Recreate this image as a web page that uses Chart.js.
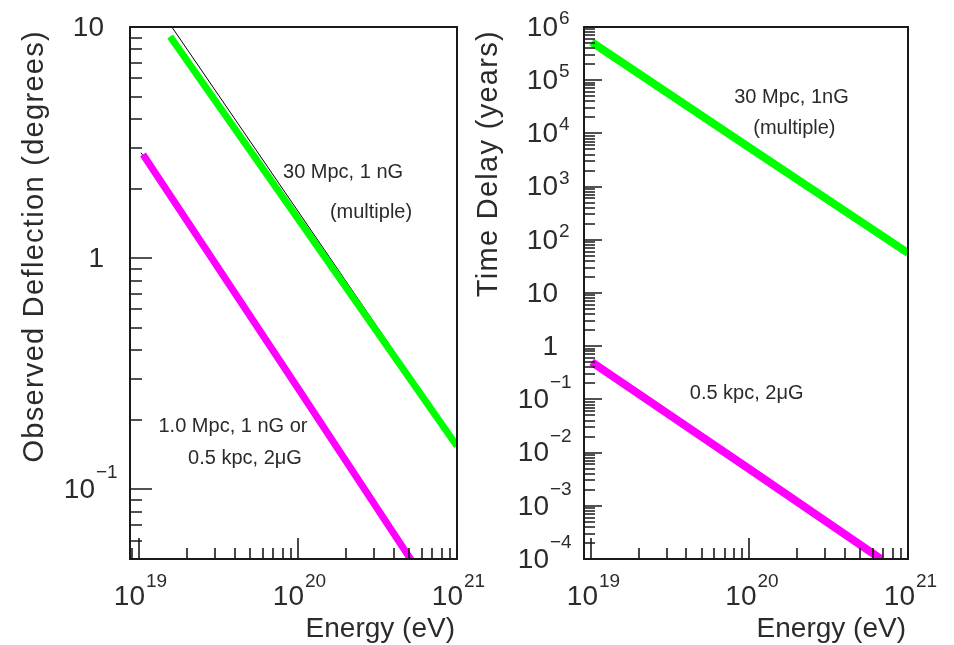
<!DOCTYPE html>
<html>
<head>
<meta charset="utf-8">
<script src="https://cdn.jsdelivr.net/npm/chart.js@4.4.1/dist/chart.umd.min.js"></script>
<style>
  body { margin: 0; background: #fff; }
  #wrap { position: relative; width: 954px; height: 645px; overflow: hidden; }
  canvas { position: absolute; top: 0; }
  #left { left: 0; }
  #right { left: 450px; }
</style>
</head>
<body>
<div id="wrap">
  <canvas id="left" width="500" height="645"></canvas>
  <canvas id="right" width="504" height="645"></canvas>
</div>
<script>
// left panel: observed deflection (degrees) vs energy (eV)
var defGreenE = [1.57e19, 1e20, 1e21];
var defGreenV = [9.1, 1.48, 0.154];
var defGreenEdgeE = [1.61e19, 1e21];
var defGreenEdgeV = [10, 0.158];
var defPinkE = [1.06e19, 1e20, 5.2e20];
var defPinkV = [2.81, 0.274, 0.049];
var defPinkEdgeE = [1.03e19, 5.45e20];
var defPinkEdgeV = [2.86, 0.049];

// right panel: time delay (years) vs energy (eV)
var delGreenE = [1.01e19, 1e20, 1e21];
var delGreenV = [5.2e5, 5.4e3, 56.5];
var delPinkE = [1.01e19, 1e20, 6.76e20];
var delPinkV = [0.505, 4.9e-3, 1e-4];
var delPinkEdgeE = [1.0e19, 7.1e20];
var delPinkEdgeV = [0.48, 9.5e-5];

// tick labels
var xTickVals = [1e19, 1e20, 1e21];
var xTickExp = ['19', '20', '21'];
var leftYVals = [10, 1, 0.1];
var leftYBase = ['10', '1', '10'];
var leftYExp = ['', '', '\u22121'];
var rightYVals = [1e6, 1e5, 1e4, 1e3, 1e2, 10, 1, 0.1, 0.01, 1e-3, 1e-4];
var rightYBase = ['10', '10', '10', '10', '10', '10', '1', '10', '10', '10', '10'];
var rightYExp = ['6', '5', '4', '3', '2', '', '', '\u22121', '\u22122', '\u22123', '\u22124'];

function pts(xs, ys) {
    return xs.map(function(x, i) { return {x: x, y: ys[i]}; });
}

function logTicks(min, max) {
    var out = [];
    for (var k = Math.floor(Math.log10(min)); k <= Math.ceil(Math.log10(max)); k++) {
        for (var m = 1; m <= 9; m++) {
            var v = m * Math.pow(10, k);
            if (v >= min * 0.999 && v <= max * 1.001) out.push({v: v, major: m === 1});
        }
    }
    return out;
}

var ink = '#1a1a1a';
var textInk = '#2b2b2b';
var FONT = '"Liberation Sans", Arial, sans-serif';

var framePlugin = {
    id: 'frame',
    afterDraw: function(chart, args, o) {
        var ctx = chart.ctx, a = chart.chartArea;
        var xs = chart.scales.x, ys = chart.scales.y;
        ctx.save();
        ctx.strokeStyle = ink;
        ctx.fillStyle = textInk;

        // frame
        ctx.lineWidth = 2;
        ctx.strokeRect(a.left, a.top, a.right - a.left, a.bottom - a.top);

        // inward ticks
        ctx.lineWidth = 1.6;
        ctx.beginPath();
        logTicks(xs.min, xs.max).forEach(function(t) {
            var px = Math.round(xs.getPixelForValue(t.v));
            ctx.moveTo(px, a.bottom);
            ctx.lineTo(px, a.bottom - (t.major ? o.xMajor : o.xMinor));
        });
        logTicks(ys.min, ys.max).forEach(function(t) {
            var py = Math.round(ys.getPixelForValue(t.v));
            ctx.moveTo(a.left, py);
            ctx.lineTo(a.left + (t.major ? o.yMajor : o.yMinor), py);
        });
        ctx.stroke();

        // x tick labels
        xTickVals.forEach(function(v, i) {
            var px = xs.getPixelForValue(v);
            ctx.font = '28px ' + FONT;
            ctx.textAlign = 'right';
            ctx.textBaseline = 'middle';
            ctx.fillText('10', px + o.xLabelShift, a.bottom + 38);
            ctx.font = '19px ' + FONT;
            ctx.textAlign = 'left';
            ctx.textBaseline = 'alphabetic';
            ctx.fillText(xTickExp[i], px + o.xLabelShift + 1, a.bottom + 28);
        });

        // y tick labels
        o.yVals.forEach(function(v, i) {
            var py = ys.getPixelForValue(v);
            var exp = o.yExp[i];
            var neg = exp.charAt(0) === '\u2212';
            var right = a.left - 26 - (neg ? 9 : 0);
            ctx.font = '28px ' + FONT;
            ctx.textAlign = 'right';
            ctx.textBaseline = 'middle';
            ctx.fillText(o.yBase[i], right, py + 1);
            if (exp) {
                ctx.font = '19px ' + FONT;
                ctx.textAlign = 'left';
                ctx.textBaseline = 'alphabetic';
                ctx.fillText(exp, right + 1, py - (neg ? 11 : 3));
            }
        });

        // axis titles
        ctx.font = '28px ' + FONT;
        ctx.textAlign = 'right';
        ctx.textBaseline = 'alphabetic';
        ctx.fillText('Energy (eV)', a.right - 2, a.bottom + 78);

        ctx.save();
        ctx.font = '29px ' + FONT;
        ctx.letterSpacing = '1.3px';
        ctx.translate(a.left - 87, a.top + 3);
        ctx.rotate(-Math.PI / 2);
        ctx.textAlign = 'right';
        ctx.fillText(o.yTitle, 0, 0);
        ctx.restore();

        // annotations, placed in data coordinates
        ctx.font = '20px ' + FONT;
        ctx.textAlign = 'center';
        ctx.textBaseline = 'middle';
        o.notes.forEach(function(n) {
            ctx.fillText(n.text, xs.getPixelForValue(n.x), ys.getPixelForValue(n.y));
        });
        ctx.restore();
    }
};

function lineSet(data, color, width) {
    return {
        data: data,
        borderColor: color,
        borderWidth: width,
        pointRadius: 0,
        tension: 0,
        clip: 0,
        borderCapStyle: 'butt'
    };
}

function makeChart(id, datasets, xMin, yMin, yMax, pad, frame) {
    return new Chart(document.getElementById(id), {
        type: 'line',
        data: {datasets: datasets},
        options: {
            responsive: false,
            animation: false,
            layout: {padding: pad},
            plugins: {
                legend: {display: false},
                tooltip: {enabled: false},
                frame: frame
            },
            scales: {
                x: {type: 'logarithmic', min: xMin, max: 1e21, display: false},
                y: {type: 'logarithmic', min: yMin, max: yMax, display: false}
            }
        },
        plugins: [framePlugin]
    });
}

makeChart('left', [
    lineSet(pts(defGreenE, defGreenV), '#00ff00', 7),
    lineSet(pts(defPinkE, defPinkV), '#ff00ff', 7),
    lineSet(pts(defGreenEdgeE, defGreenEdgeV), '#000000', 1),
    lineSet(pts(defPinkEdgeE, defPinkEdgeV), '#000000', 1)
], 8.78e18, 0.05, 10, {left: 130, right: 43, top: 27, bottom: 86}, {
    xMajor: 21, xMinor: 11, yMajor: 22, yMinor: 12, xLabelShift: 6,
    yVals: leftYVals, yBase: leftYBase, yExp: leftYExp,
    yTitle: 'Observed Deflection (degrees)',
    notes: [
        {text: '30 Mpc, 1 nG', x: 1.92e20, y: 2.34},
        {text: '(multiple)', x: 2.88e20, y: 1.58},
        {text: '1.0 Mpc, 1 nG or', x: 3.9e19, y: 0.188},
        {text: '0.5 kpc, 2\u03bcG', x: 4.64e19, y: 0.136}
    ]
});

makeChart('right', [
    lineSet(pts(delGreenE, delGreenV), '#00ff00', 8),
    lineSet(pts(delPinkE, delPinkV), '#ff00ff', 8),
    lineSet(pts(delPinkEdgeE, delPinkEdgeV), '#000000', 1)
], 9.04e18, 1e-4, 1e6, {left: 134, right: 46, top: 27, bottom: 86}, {
    xMajor: 21, xMinor: 11, yMajor: 18, yMinor: 11, xLabelShift: 7,
    yVals: rightYVals, yBase: rightYBase, yExp: rightYExp,
    yTitle: 'Time Delay (years)',
    notes: [
        {text: '30 Mpc, 1nG', x: 1.84e20, y: 4.8e4},
        {text: '(multiple)', x: 1.92e20, y: 1.26e4},
        {text: '0.5 kpc, 2\u03bcG', x: 9.6e19, y: 0.132}
    ]
});
</script>
</body>
</html>
